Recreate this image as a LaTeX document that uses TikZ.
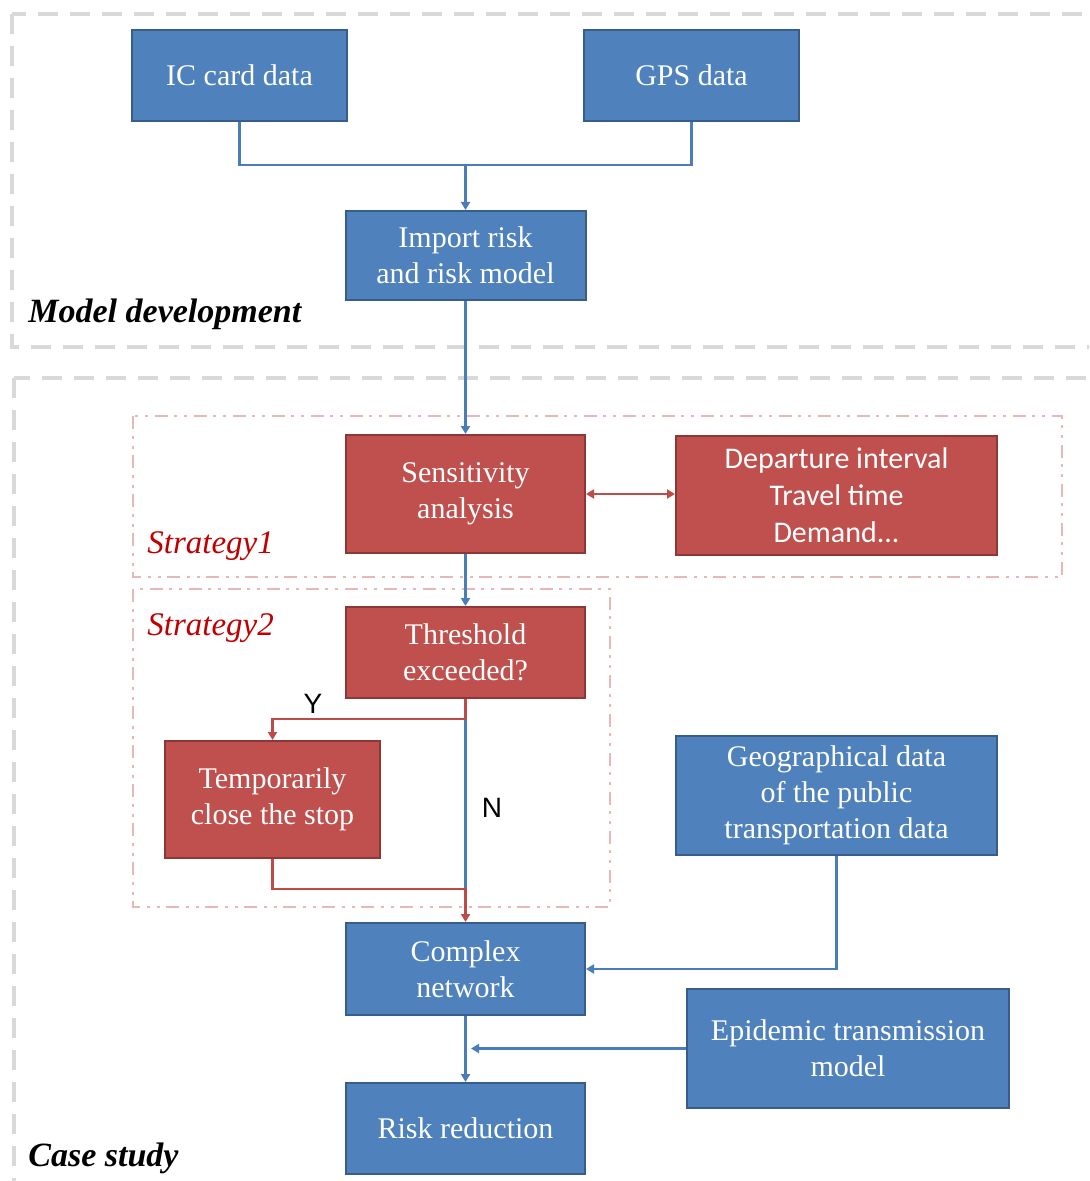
\documentclass[tikz,border=0pt]{standalone}
\usepackage{fontspec}
\setmainfont{Liberation Serif}
\newfontfamily\calib{Carlito}
\newfontfamily\arialf{Liberation Sans}
\usetikzlibrary{arrows.meta}
\definecolor{bfill}{HTML}{4F81BD}
\definecolor{bdraw}{HTML}{385D8A}
\definecolor{rfill}{HTML}{C0504D}
\definecolor{rdraw}{HTML}{8C3836}
\definecolor{bline}{HTML}{4A7EBB}
\definecolor{rline}{HTML}{BE4B48}
\definecolor{grayd}{HTML}{D9D9D9}
\definecolor{pinkd}{HTML}{E6B9B8}
\definecolor{labred}{HTML}{C00000}
\tikzset{
  bluebox/.style={draw=bdraw, fill=bfill, line width=1pt, text=white, align=center, inner sep=0pt,
    font=\fontsize{15}{18}\selectfont},
  redbox/.style={draw=rdraw, fill=rfill, line width=1pt, text=white, align=center, inner sep=0pt,
    font=\fontsize{15}{18}\selectfont},
  calibfont/.style={font=\calib\fontsize{15}{18.5}\selectfont},
  bconn/.style={draw=bline, line width=1.2pt},
  rconn/.style={draw=rline, line width=1.2pt},
  tip/.style={-{Triangle[width=4.5pt,length=4pt]}},
  dtip/.style={{Triangle[width=4.5pt,length=4pt]}-{Triangle[width=4.5pt,length=4pt]}},
  grayframe/.style={draw=grayd, line width=2pt, dash pattern=on 10pt off 6pt},
  pinkframe/.style={draw=pinkd, line width=1.3pt, dash pattern=on 6.5pt off 3.5pt on 1.5pt off 3.5pt on 1.5pt off 3pt},
  seclabel/.style={anchor=base west, inner sep=0pt, font=\fontsize{17}{19}\selectfont\bfseries\itshape},
  stratlabel/.style={anchor=base west, inner sep=0pt, text=labred, font=\fontsize{16.5}{18}\selectfont\itshape},
  yn/.style={inner sep=0pt, font=\arialf\fontsize{14}{16}\selectfont}
}
\begin{document}
\begin{tikzpicture}[x=0.5pt,y=-0.5pt]
\useasboundingbox (0,0) rectangle (1089,1181);
\clip (0,0) rectangle (1089,1181);
% frames
\draw[grayframe] (12,14) rectangle (1110,347);
\draw[grayframe] (14,378) rectangle (1110,1210);
\draw[pinkframe] (133,416) rectangle (1062,577);
\draw[pinkframe] (133,589) rectangle (610,907);
% nodes
\node[bluebox, minimum width=107.5pt, minimum height=45.5pt] (ic) at (239.5,75.5) {IC card data};
\node[bluebox, minimum width=107.5pt, minimum height=45.5pt] (gps) at (691.5,75.5) {GPS data};
\node[bluebox, minimum width=120pt, minimum height=44.5pt] (imp) at (465.5,255.5) {Import risk\\and risk model};
\node[redbox, minimum width=119.5pt, minimum height=59pt] (sens) at (465.5,494) {Sensitivity\\analysis};
\node[redbox, calibfont, minimum width=160.5pt, minimum height=59.5pt] (dep) at (836.5,495.5) {Departure interval\\Travel time\\Demand...};
\node[redbox, minimum width=119.5pt, minimum height=45.5pt] (thr) at (465.5,652.5) {Threshold\\exceeded?};
\node[redbox, minimum width=107.5pt, minimum height=58.5pt] (temp) at (272.5,799.5) {Temporarily\\close the stop};
\node[bluebox, minimum width=160.5pt, minimum height=59.5pt] (geo) at (836.5,795.5) {Geographical data\\of the public\\transportation data};
\node[bluebox, minimum width=119.5pt, minimum height=46pt] (cx) at (465.5,969) {Complex\\network};
\node[bluebox, minimum width=161pt, minimum height=59.5pt] (epi) at (848,1048.5) {Epidemic transmission\\model};
\node[bluebox, minimum width=119.5pt, minimum height=45.5pt] (risk) at (465.5,1128.5) {Risk reduction};
% labels
\node[seclabel] (lmd) at (28,323) {Model development};
\node[seclabel] (lcs) at (28,1166) {Case study};
\node[stratlabel] (ls1) at (147,553) {Strategy1};
\node[stratlabel] (ls2) at (147,635) {Strategy2};
\node[yn] (ly) at (313,704) {Y};
\node[yn] (ln) at (492,808) {N};
% connectors
\coordinate (join) at (465.5,165);
\draw[bconn] (ic.south) |- (join);
\draw[bconn] (gps.south) |- (join);
\draw[bconn, tip] (join) -- (imp.north);
\draw[bconn, tip] (imp.south) -- (sens.north);
\draw[rconn, dtip] (sens.east) -- (sens.east -| dep.west);
\draw[bconn, tip] (sens.south) -- (thr.north);
\coordinate (ysplit) at (465.5,719);
\coordinate (nmerge) at (465.5,889);
\draw[bconn] (ysplit) -- (nmerge);
\draw[rconn] (thr.south) -- (ysplit);
\draw[rconn, tip] (ysplit) -| (temp.north);
\draw[rconn, tip] (temp.south) |- (nmerge) -- (cx.north);
\draw[bconn, tip] (geo.south) |- (cx.east);
\coordinate (epiend) at (471,1048.5);
\draw[bconn, tip] (epi.west) -- (epiend);
\draw[bconn, tip] (cx.south) -- (risk.north);
\end{tikzpicture}
\end{document}
